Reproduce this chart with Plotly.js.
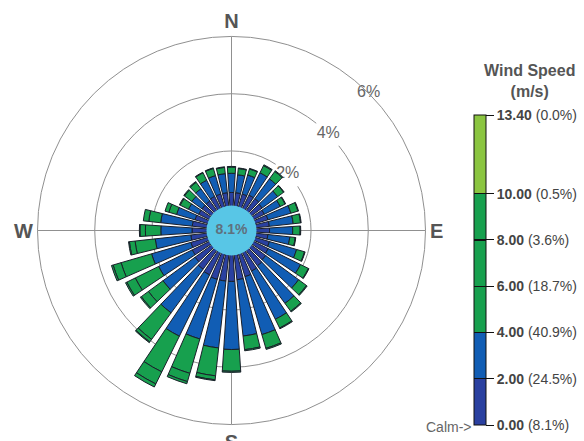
<!DOCTYPE html>
<html><head><meta charset="utf-8">
<script src="https://cdn.plot.ly/plotly-3.0.1.min.js"></script>
<style>html,body{margin:0;padding:0;background:#fff}#chart{width:584px;height:441px}</style>
</head><body><div id="chart"></div>
<script>
// Wind direction sectors (degrees, clockwise from north)
const directions = [0,10,20,30,40,50,60,70,80,90,100,110,120,130,140,150,160,170,180,190,200,210,220,230,240,250,260,270,280,290,300,310,320,330,340,350];
// Frequency (%) per speed class for each direction
const speed0to2  = [0.55,0.55,0.55,0.60,0.60,0.55,0.50,0.55,0.55,0.55,0.50,0.60,0.65,0.70,0.75,0.80,0.90,0.95,1.00,1.00,1.00,0.95,0.90,0.80,0.75,0.70,0.65,0.60,0.60,0.55,0.50,0.50,0.50,0.55,0.55,0.55];
const speed2to4  = [0.67,0.63,0.69,0.87,0.86,0.67,0.62,0.83,0.84,0.81,0.77,0.99,1.26,1.43,1.63,1.88,2.11,1.98,2.38,2.35,2.17,2.39,1.89,1.39,1.31,1.43,1.25,1.09,1.11,0.67,0.40,0.44,0.53,0.63,0.67,0.67];
const speed4to6  = [0.22,0.22,0.22,0.28,0.32,0.26,0.19,0.26,0.26,0.26,0.19,0.29,0.31,0.34,0.34,0.34,0.50,0.48,0.76,0.98,1.25,1.39,1.15,0.63,0.91,1.11,0.71,0.54,0.42,0.28,0.32,0.32,0.28,0.29,0.26,0.22];
const speed6to8  = [0.02,0.02,0.02,0.03,0.03,0.02,0.02,0.02,0.02,0.02,0.02,0.02,0.02,0.03,0.03,0.03,0.04,0.04,0.04,0.14,0.30,0.47,0.11,0.31,0.33,0.29,0.20,0.19,0.19,0.14,0.03,0.03,0.03,0.02,0.02,0.02];
const speed8to10 = [0,0,0,0,0,0,0,0,0,0,0,0,0,0,0,0,0,0,0,0.03,0.08,0.12,0.03,0.04,0.05,0.06,0.03,0.02,0,0,0,0,0,0,0,0];

// Speed classes (m/s) and their overall share
const binEdges    = [0, 2, 4, 6, 8, 10, 13.4];
const binLabels   = ['0.00','2.00','4.00','6.00','8.00','10.00','13.40'];
const binPercents = ['8.1','24.5','40.9','18.7','3.6','0.5','0.0'];
const calmPercent = '8.1%';

const compassVals   = [0, 90, 180, 270];
const compassLabels = ['N', 'E', 'S', 'W'];
const ringVals   = [2, 4, 6];
const ringLabels = ['2%', '4%', '6%'];
const ringAngle  = [45, 45, 45];

// ---- styling ----
const C_DARK = '#2a40a0', C_BLUE = '#115db4', C_GREEN = '#17a04e', C_LIGHT = '#8bc540', SEP = '#111';
const vmax = binEdges[binEdges.length - 1];
const e = 0.03;
function f(v){ return v / vmax; }
const colorscale = [
  [0, C_DARK], [f(2 - e), C_DARK], [f(2 - e), SEP], [f(2 + e), SEP], [f(2 + e), C_BLUE],
  [f(4 - e), C_BLUE], [f(4 - e), SEP], [f(4 + e), SEP], [f(4 + e), C_GREEN],
  [f(6 - e), C_GREEN], [f(6 - e), SEP], [f(6 + e), SEP], [f(6 + e), C_GREEN],
  [f(8 - e), C_GREEN], [f(8 - e), SEP], [f(8 + e), SEP], [f(8 + e), C_GREEN],
  [f(10 - e), C_GREEN], [f(10 - e), SEP], [f(10 + e), SEP], [f(10 + e), C_LIGHT],
  [1, C_LIGHT]
];

const series = [speed0to2, speed2to4, speed4to6, speed6to8, speed8to10];
const traces = [];

// ring labels (drawn in the lowest subplot, under the bars)
traces.push({
  type: 'scatterpolar', subplot: 'polar', r: ringVals, theta: ringAngle,
  mode: 'markers+text', text: ringLabels, textposition: 'middle center',
  marker: { symbol: 'square', size: 24, color: '#ffffff' },
  textfont: { family: 'Liberation Sans, Arial, sans-serif', size: 16, color: '#666' },
  hoverinfo: 'skip', cliponaxis: false
});

series.forEach(function (vals, i) {
  const mid = (binEdges[i] + binEdges[i + 1]) / 2;
  const t = {
    type: 'barpolar', subplot: 'polar2', r: vals, theta: directions, width: 7.5,
    name: binLabels[i] + '-' + binLabels[i + 1],
    marker: {
      color: vals.map(function () { return mid; }),
      colorscale: colorscale, cmin: 0, cmax: vmax, showscale: i === 0,
      line: { color: '#1a1f2a', width: 1 }
    },
    hoverinfo: 'skip'
  };
  if (i === 0) {
    t.marker.colorbar = {
      x: 474 / 584, xanchor: 'left', xpad: 0,
      y: 16 / 441, yanchor: 'bottom', ypad: 0,
      len: 310 / 441, lenmode: 'fraction', thickness: 12,
      outlinecolor: '#111', outlinewidth: 1,
      tickmode: 'array', tickvals: binEdges,
      ticktext: binLabels.map(function (l, k) { return '<b>' + l + '</b> (' + binPercents[k] + '%)'; }),
      ticks: 'outside', ticklen: 8, tickcolor: '#111', tickwidth: 1,
      tickfont: { family: 'Liberation Sans, Arial, sans-serif', size: 14, color: '#444' }
    };
  }
  traces.push(t);
});

// calm circle in the center
traces.push({
  type: 'scatterpolar', subplot: 'polar3', r: [0], theta: [0],
  mode: 'markers+text', text: [calmPercent], textposition: 'middle center',
  marker: { size: 50, color: '#58c6e6', line: { width: 0 } },
  textfont: { family: 'Liberation Sans, Arial, sans-serif', size: 14, color: '#5f707e', weight: 'bold' },
  hoverinfo: 'skip', cliponaxis: false
});

const dom = { x: [37.5 / 584, 425.5 / 584], y: [(441 - 424.5) / 441, (441 - 36.5) / 441] };
const HOLE = 0.115;
const hiddenAng = { direction: 'clockwise', rotation: 90, showgrid: false, showline: false, showticklabels: false, ticks: '' };
const hiddenRad = { range: [0, 6], showgrid: false, showline: false, showticklabels: false, ticks: '' };

const layout = {
  width: 584, height: 441,
  margin: { l: 0, r: 0, t: 0, b: 0, pad: 0 },
  paper_bgcolor: '#ffffff',
  showlegend: false,
  font: { family: 'Liberation Sans, Arial, sans-serif' },
  polar: {
    domain: dom, hole: HOLE, bgcolor: '#ffffff',
    angularaxis: {
      direction: 'clockwise', rotation: 90,
      tickmode: 'array', tickvals: compassVals, ticktext: compassLabels,
      showgrid: true, gridcolor: '#909090', gridwidth: 1,
      showline: true, linecolor: '#909090', linewidth: 1,
      ticks: '',
      tickfont: { family: 'Liberation Sans, Arial, sans-serif', size: 20, color: '#555', weight: 'bold' }
    },
    radialaxis: {
      range: [0, 6], tickmode: 'array', tickvals: ringVals,
      showgrid: true, gridcolor: '#909090', gridwidth: 1,
      showline: false, showticklabels: false, ticks: ''
    }
  },
  polar2: {
    domain: dom, hole: HOLE, bgcolor: 'rgba(0,0,0,0)', barmode: 'stack',
    angularaxis: hiddenAng, radialaxis: hiddenRad
  },
  polar3: {
    domain: dom, bgcolor: 'rgba(0,0,0,0)',
    angularaxis: hiddenAng, radialaxis: { range: [0, 1], showgrid: false, showline: false, showticklabels: false, ticks: '' }
  },
  annotations: [
    { text: '<b>Wind Speed</b><br><b>(m/s)</b>', xref: 'paper', yref: 'paper', x: 529 / 584, y: 1 - 81 / 441,
      xanchor: 'center', yanchor: 'middle', showarrow: false, align: 'center',
      font: { size: 16, color: '#555' } },
    { text: 'Calm->', xref: 'paper', yref: 'paper', x: 474 / 584, y: 1 - 427 / 441,
      xanchor: 'right', yanchor: 'middle', showarrow: false,
      font: { size: 14, color: '#666' } }
  ]
};

Plotly.newPlot('chart', traces, layout, { displayModeBar: false, staticPlot: true });
</script>
</body></html>
